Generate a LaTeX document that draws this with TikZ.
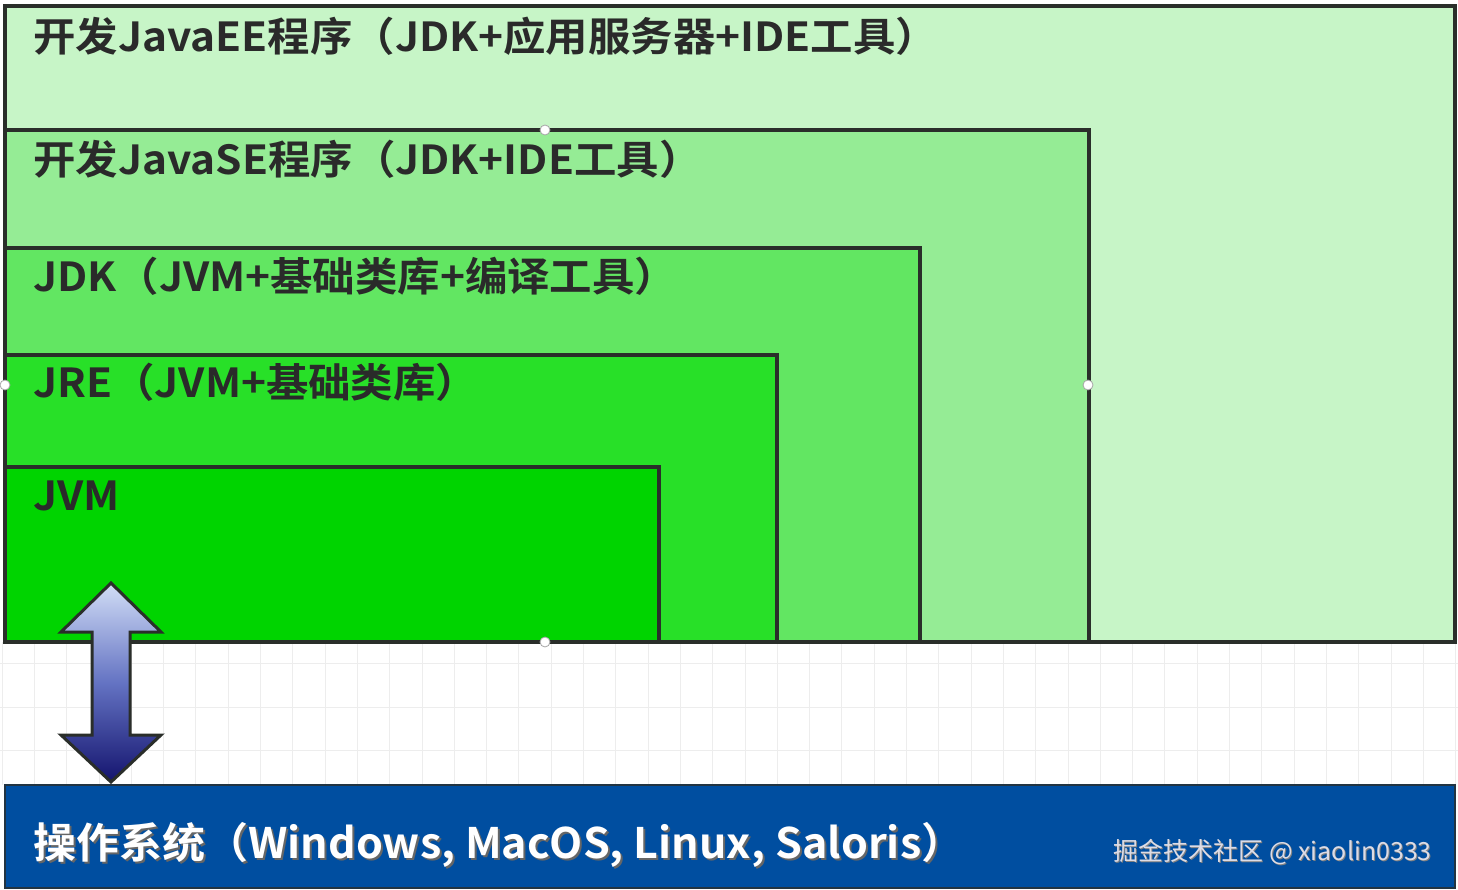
\documentclass[tikz,border=0pt]{standalone}
\usepackage{fontspec}
\newfontfamily\cjk{Noto Sans CJK SC}[BoldFont={* Bold}]
\newfontfamily\cjkw{Noto Sans CJK SC}[BoldFont={* Bold}, FakeStretch=1.06]
\newfontfamily\cjkos{Noto Sans CJK SC}[BoldFont={* Bold}, FakeStretch=1.025]
\usetikzlibrary{calc}
\definecolor{ee}{HTML}{C7F5C7}
\definecolor{se}{HTML}{95EC95}
\definecolor{jdk}{HTML}{62E662}
\definecolor{jre}{HTML}{28E028}
\definecolor{jvm}{HTML}{00D400}
\definecolor{osblue}{HTML}{004EA0}
\definecolor{ink}{HTML}{2A2A2A}
\definecolor{edge}{HTML}{2A2E2A}
\definecolor{gridc}{HTML}{EDEDED}
\definecolor{wm}{HTML}{DCDCE6}
\tikzset{
  layer/.style={draw=edge, line width=3.5pt},
  lbl/.style={anchor=base west, inner sep=0pt, text=ink, font=\cjkw\bfseries\fontsize{40}{42}\selectfont},
  oslbl/.style={anchor=base west, inner sep=0pt, font=\cjkos\bfseries\fontsize{42}{44}\selectfont},
  handle/.style={circle, draw=gray!70, fill=white, line width=0.8pt, inner sep=0pt, minimum size=10pt},
}
\begin{document}
\begin{tikzpicture}[x=1pt,y=-1pt]
\useasboundingbox (0,0) rectangle (1458,890);
\fill[white] (0,0) rectangle (1458,890);
% faint grid
\foreach \k in {0,...,45} {
  \draw[gridc, line width=0.8pt] ({2+32.3*\k},642) -- ({2+32.3*\k},785);
}
\foreach \yy in {663,707,750} {
  \draw[gridc, line width=0.8pt] (0,\yy) -- (1458,\yy);
}
% nested layers
\draw[layer, fill=ee]  (5,6)   rectangle (1455,642);
\draw[layer, fill=se]  (5,130) rectangle (1089,642);
\draw[layer, fill=jdk] (5,248) rectangle (920,642);
\draw[layer, fill=jre] (5,355) rectangle (777,642);
\draw[layer, fill=jvm] (5,467) rectangle (659,642);
% labels
\node[lbl] (tee)  at (33,52)  {开发JavaEE程序（JDK+应用服务器+IDE工具）};
\node[lbl] (tse)  at (33,175) {开发JavaSE程序（JDK+IDE工具）};
\node[lbl] (tjdk) at (33,292) {JDK（JVM+基础类库+编译工具）};
\node[lbl] (tjre) at (33,397) {JRE（JVM+基础类库）};
\node[lbl] (tjvm) at (33,510) {JVM};
% OS bar
\draw[draw=edge!80!osblue, line width=2pt, fill=osblue] (5,785) rectangle (1455,888);
\node[oslbl, text=black!60] at (35,860) {操作系统（Windows, MacOS, Linux, Saloris）};
\node[oslbl, text=white] (tos) at (33,858) {操作系统（Windows, MacOS, Linux, Saloris）};
\node[anchor=base east, inner sep=0pt, text=black!50, font=\cjk\fontsize{25}{27}\selectfont] at (1433,861) {掘金技术社区 @ xiaolin0333};
\node[anchor=base east, inner sep=0pt, text=wm, font=\cjk\fontsize{25}{27}\selectfont] (wmk) at (1432,860) {掘金技术社区 @ xiaolin0333};
% double arrow between JVM and OS
\shade[top color={rgb,255:red,210;green,222;blue,246}, bottom color={rgb,255:red,20;green,20;blue,110}, middle color={rgb,255:red,100;green,115;blue,195}, draw=edge, line width=3pt, line join=miter]
  (111,583) -- (161,632) -- (130,632) -- (130,735) -- (161,735) -- (111,782)
  -- (61,735) -- (92,735) -- (92,632) -- (61,632) -- cycle;
% selection handles
\node[handle] at (545,130) {};
\node[handle] at (5,385) {};
\node[handle] at (1088,385) {};
\node[handle] at (545,642) {};
\end{tikzpicture}
\end{document}
